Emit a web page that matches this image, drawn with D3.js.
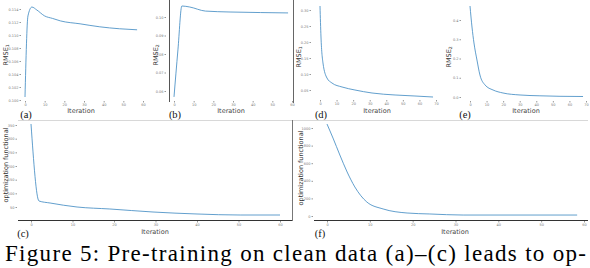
<!DOCTYPE html>
<html><head><meta charset="utf-8">
<script src="https://cdn.jsdelivr.net/npm/d3@7"></script>
<style>
html,body{margin:0;padding:0;background:#fff;}
svg{display:block;}
.serif{font-family:"Liberation Serif","Times New Roman",Times,serif;}
.sans{font-family:"DejaVu Sans","Liberation Sans",sans-serif;}
</style></head>
<body>
<svg id="c" width="590" height="268"></svg>
<script>
// ---- data ----
const iterA = [0, 1.5, 3.5, 6, 10, 14, 18, 28, 38, 48, 57];
const rmseA = [0.10046, 0.11293, 0.1143, 0.11385, 0.11293, 0.11255, 0.11217, 0.11172, 0.11126, 0.11096, 0.1108];
const ticksA_x = [0, 10, 20, 30, 40, 50, 60];
const ticksA_y = [0.100, 0.102, 0.104, 0.106, 0.108, 0.110, 0.112, 0.114];

const iterB = [0, 2, 4, 8, 16, 28.5, 44, 58];
const rmseB = [0.0568, 0.0822, 0.10595, 0.1054, 0.1032, 0.1027, 0.1024, 0.1022];
const ticksB_x = [0, 10, 20, 30, 40, 50, 60];
const ticksB_y = [0.06, 0.07, 0.08, 0.09, 0.10];

const iterD = [0, 0.6, 1.8, 4.2, 7.2, 13.3, 21.1, 31.4, 45.3, 57.3, 68.2];
const rmseD = [0.3125, 0.2156, 0.1344, 0.0875, 0.0719, 0.0594, 0.05, 0.0406, 0.0344, 0.03125, 0.0281];
const ticksD_x = [0, 10, 20, 30, 40, 50, 60, 70];
const ticksD_y = [0.05, 0.10, 0.15, 0.20, 0.25, 0.30];

const iterE = [0, 1.2, 2.4, 4.2, 6.0, 9.1, 13.9, 19.9, 30.2, 42.2, 54.3, 68.2];
const rmseE = [0.4727, 0.3636, 0.2805, 0.1922, 0.1143, 0.0623, 0.0364, 0.0208, 0.0104, 0.0062, 0.0036, 0.0026];
const ticksE_x = [0, 10, 20, 30, 40, 50, 60, 70];
const ticksE_y = [0.0, 0.1, 0.2, 0.3, 0.4];

const iterC = [0, 1.93, 4.6, 11.1, 19.0, 29.4, 40.0, 50.4, 60];
const funcC = [353.7, 72, 64.6, 50, 42.7, 31.7, 24.4, 20.7, 20.7];
const ticksC_x = [0, 10, 20, 30, 40, 50, 60];
const ticksC_y = [50, 100, 150, 200, 250, 300, 350];

const iterF = [0, 1.4, 3.0, 4.7, 6.5, 9.3, 13.1, 18.7, 24.0, 31.8, 58.4];
const funcF = [1045, 886, 693, 500, 330, 159, 80, 34, 23, 11, 11];
const ticksF_x = [0, 10, 20, 30, 40, 50, 60];
const ticksF_y = [0, 200, 400, 600, 800, 1000];

const panelLabels = ["(a)", "(b)", "(d)", "(e)", "(c)", "(f)"];
const caption = "Figure 5:  Pre-training on clean data (a)\u2013(c) leads to op-";

// ---- layout ----
const svg = d3.select("#c");
const lineColor = "#3a86c0";

const panels = [
  {x: iterA, y: rmseA, tx: ticksA_x, ty: ticksA_y, xd:[0,60], xr:[25,143], yd:[0.100,0.114], yr:[100,9],
   yTickX: 21, xTickY: 101, ylab: ["RMSE","1"], ylabX: 6, ylabY: 55, label: panelLabels[0], labX: 26, labY: 118, itX: 81, itY: 111, fmt: d3.format(".3f")},
  {x: iterB, y: rmseB, tx: ticksB_x, ty: ticksB_y, xd:[0,60], xr:[174,292], yd:[0.06,0.10], yr:[91,17],
   yTickX: 166, xTickY: 101, ylab: ["RMSE","2"], ylabX: 156, ylabY: 55, label: panelLabels[1], labX: 175, labY: 118, itX: 231, itY: 111, fmt: d3.format(".2f")},
  {x: iterD, y: rmseD, tx: ticksD_x, ty: ticksD_y, xd:[0,70], xr:[320,436], yd:[0.05,0.30], yr:[90,10],
   yTickX: 311, xTickY: 100, ylab: ["RMSE","1"], ylabX: 299, ylabY: 57, label: panelLabels[2], labX: 321, labY: 118, itX: 377, itY: 111, fmt: d3.format(".2f")},
  {x: iterE, y: rmseE, tx: ticksE_x, ty: ticksE_y, xd:[0,70], xr:[470,586], yd:[0,0.4], yr:[97,20],
   yTickX: 461, xTickY: 101, ylab: ["RMSE","2"], ylabX: 449, ylabY: 57, label: panelLabels[3], labX: 465, labY: 118, itX: 526, itY: 111, fmt: d3.format(".1f")},
  {x: iterC, y: funcC, tx: ticksC_x, ty: ticksC_y, xd:[0,60], xr:[31,280], yd:[50,350], yr:[207,125],
   yTickX: 17, xTickY: 221, ylab: ["optimization functional",""], ylabX: 6, ylabY: 165, label: panelLabels[4], labX: 23, labY: 237, itX: 155, itY: 232, fmt: d3.format("d")},
  {x: iterF, y: funcF, tx: ticksF_x, ty: ticksF_y, xd:[0,60], xr:[327,584], yd:[0,1000], yr:[216,128],
   yTickX: 313, xTickY: 221, ylab: ["optimization functional",""], ylabX: 301, ylabY: 168, label: panelLabels[5], labX: 320, labY: 237, itX: 455, itY: 232, fmt: d3.format("d")}
];

// frame lines
const frames = [
  {x1:169.5, y1:0, x2:169.5, y2:102, c:"#555"},
  {x1:293.5, y1:0, x2:293.5, y2:103, c:"#666"},
  {x1:18, y1:120.5, x2:292, y2:120.5, c:"#d8d8d8"},
  {x1:292.5, y1:120, x2:292.5, y2:221, c:"#777"},
  {x1:293, y1:120.5, x2:588, y2:120.5, c:"#d8d8d8"},
  {x1:18, y1:220.5, x2:292, y2:220.5, c:"#333"},
  {x1:314, y1:220.5, x2:588, y2:220.5, c:"#333"}
];
svg.selectAll("line.frame").data(frames).join("line").attr("class","frame")
  .attr("x1",d=>d.x1).attr("y1",d=>d.y1).attr("x2",d=>d.x2).attr("y2",d=>d.y2)
  .attr("stroke",d=>d.c).attr("stroke-width",1);

panels.forEach(p => {
  const xs = d3.scaleLinear().domain(p.xd).range(p.xr);
  const ys = d3.scaleLinear().domain(p.yd).range(p.yr);
  const g = svg.append("g");

  // x axis
  const gx = g.append("g").attr("transform", `translate(0,${p.xTickY})`)
    .call(d3.axisBottom(xs).tickValues(p.tx).tickSize(1.5).tickPadding(1).tickFormat(d3.format("d")));
  gx.select(".domain").remove();
  gx.selectAll("text").attr("class","sans").attr("font-size", 3.5).attr("fill","#777");
  gx.selectAll("line").attr("stroke","#999");

  // y axis
  const gy = g.append("g").attr("transform", `translate(${p.yTickX},0)`)
    .call(d3.axisLeft(ys).tickValues(p.ty).tickSize(1.5).tickPadding(1).tickFormat(p.fmt));
  gy.select(".domain").remove();
  gy.selectAll("text").attr("class","sans").attr("font-size", 3.5).attr("fill","#777");
  gy.selectAll("line").attr("stroke","#999");

  // line
  const pts = p.x.map((v,i)=>[v, p.y[i]]);
  g.append("path").datum(pts)
    .attr("d", d3.line().x(d=>xs(d[0])).y(d=>ys(d[1])).curve(d3.curveMonotoneX))
    .attr("fill","none").attr("stroke",lineColor).attr("stroke-width",0.8);

  // y label
  const yl = g.append("text").attr("class","sans")
    .attr("transform", `translate(${p.ylabX},${p.ylabY}) rotate(-90)`)
    .attr("text-anchor","middle").attr("dominant-baseline","middle")
    .attr("font-size", 6.5).attr("fill","#333");
  yl.append("tspan").text(p.ylab[0]);
  if (p.ylab[1]) yl.append("tspan").attr("font-size",4.5).attr("dy",1.8).text(p.ylab[1]);

  // iteration label
  g.append("text").attr("class","sans").attr("x", p.itX).attr("y", p.itY)
    .attr("text-anchor","middle").attr("dominant-baseline","middle")
    .attr("font-size", 6.5).attr("fill","#444")
    .text("Iteration");

  // panel label
  g.append("text").attr("class","serif").attr("x", p.labX).attr("y", p.labY)
    .attr("text-anchor","middle")
    .attr("font-size", 10.5).attr("fill","#111")
    .text(p.label);
});

// caption
svg.append("text").attr("class","serif").attr("x", 5).attr("y", 261)
  .attr("font-size", 23).attr("fill","#000")
  .attr("textLength", 581).attr("lengthAdjust","spacing")
  .text(caption);
</script>
</body></html>
